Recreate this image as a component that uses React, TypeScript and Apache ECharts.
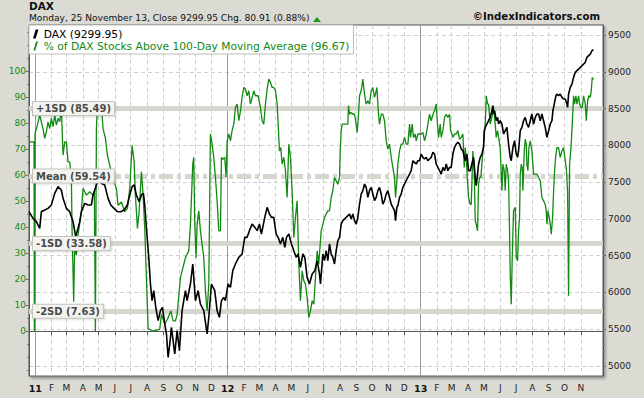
import React, { useEffect, useRef } from 'react';
import * as echarts from 'echarts';

const FONT = '"DejaVu Sans", Verdana, sans-serif';
const START = Date.UTC(2010, 11, 20);
const END = Date.UTC(2013, 11, 13);
const DAY = 86400000;

const daxName = 'DAX (9299.95)';
const pctName = '% of DAX Stocks Above 100-Day Moving Average (96.67)';
const titleText = 'DAX';
const subtitleText = 'Monday, 25 November 13, Close 9299.95 Chg. 80.91 (0.88%)';
const copyrightText = '\u00a9IndexIndicators.com';

// [days since 2010-12-20, value]
const dax2011 = [
  [0, 7098], [7.6, 7008], [14, 6962], [20.3, 6872], [23.5, 7098], [29.8, 7121], [36.1, 7143], [42.4, 7189], [48.8, 7347], [55.1, 7438],
  [61.4, 7393], [64.6, 7279], [70.9, 7143], [77.2, 7098], [83.6, 6962], [88.6, 6758], [93, 6872], [96.2, 6962], [99.4, 7098], [105.7, 7211],
  [112, 7189], [118.4, 7189], [121.5, 7325], [127.9, 7461], [132.3, 7529], [137.4, 7483], [143.7, 7461], [150, 7279], [155.1, 7189], [161.4, 7143],
  [167.7, 7098], [174, 7098], [180.4, 7121], [186.7, 7189], [191.1, 7325], [195.6, 7438], [199.4, 7461], [203.8, 7325], [208.9, 7234], [213.3, 7325],
  [217.1, 7347], [219.6, 7189], [222.8, 6872], [227.2, 6477], [230.4, 6115], [233.5, 5888], [236.7, 6024], [240.5, 5798], [244.9, 5616], [249.4, 5752],
  [253.2, 5798], [257.6, 5571], [260.8, 5435], [263.9, 5118], [267.1, 5299], [270.2, 5526], [273.4, 5345], [276.5, 5163], [281, 5480], [285.4, 5209],
  [290.4, 5752], [296.8, 6024], [299.9, 5888], [306.3, 6115], [310.7, 6387], [312.6, 6205], [315.7, 5888], [320.8, 6024], [325.2, 5843], [331.6, 5752],
  [337.9, 5435], [341.1, 5662], [346.1, 6115], [352.4, 6024], [356.9, 5752], [361.3, 5662], [365.1, 5888], [369.5, 5933], [372.7, 5888], [377.7, 6115],
];
const dax2012 = [
  [382.2, 6069], [386.6, 6296], [391.7, 6387], [398, 6477], [404.3, 6523], [409.4, 6749], [413.8, 6749], [418.2, 6840], [423.3, 6930], [428.4, 6885],
  [432.8, 6840], [437.2, 6930], [441, 6794], [447.3, 7021], [451.8, 7157], [456.2, 7066], [460, 7021], [464.4, 7021], [468.9, 6794], [472.7, 6749],
  [477.1, 6659], [481.5, 6749], [485.3, 6613], [488.5, 6749], [492.9, 6794], [498, 6659], [502.4, 6568], [506.8, 6477], [510.6, 6523], [515, 6341],
  [519.5, 6523], [523.3, 6477], [527.7, 6205], [532.1, 6115], [537.2, 6251], [542.3, 6296], [546.7, 6432], [551.1, 6251], [553, 6115], [557.5, 6523],
  [560.6, 6432], [563.8, 6568], [567, 6432], [570.1, 6659], [573.3, 6523], [576.4, 6477], [579.6, 6387], [582.8, 6568], [585.9, 6704], [589.1, 6749],
  [592.3, 6930], [595.4, 6976], [601.7, 7021], [608.1, 7066], [611.2, 6998], [614.4, 7066], [617.6, 6976], [620.7, 6930], [623.9, 7021], [627.1, 7202],
  [630.2, 7338], [633.4, 7384], [636.5, 7474], [639.7, 7429], [642.9, 7293], [646, 7384], [649.2, 7429], [652.4, 7338], [655.5, 7248], [658.7, 7293],
  [661.9, 7384], [665, 7429], [668.2, 7338], [671.3, 7202], [674.5, 7248], [677.7, 7338], [680.8, 7384], [684, 7293], [687.2, 7202], [690.3, 7157],
  [693.5, 7112], [695.4, 6976], [697.9, 7157], [699.8, 7180], [703, 7293], [706.1, 7338], [709.3, 7429], [712.5, 7474], [715.6, 7519], [718.8, 7565],
  [722, 7610], [725.1, 7655], [728.3, 7791], [731.4, 7769], [734.6, 7746], [737.8, 7791], [740.9, 7791],
];
const dax2013 = [
  [744.1, 7882], [747.3, 7837], [750.4, 7814], [753.6, 7837], [756.8, 7791], [759.9, 7814], [763.1, 7837], [766.3, 7905], [769.4, 7882], [772.6, 7746],
  [775.7, 7701], [778.9, 7655], [782.1, 7610], [785.2, 7701], [788.4, 7655], [791.6, 7746], [794.7, 7655], [797.9, 7701], [801, 7701], [804.2, 7882],
  [807.4, 7973], [810.5, 8018], [813.7, 8041], [816.9, 8018], [820, 7950], [823.2, 7927], [827.6, 7791], [830.8, 7882], [833.9, 7655], [837.1, 7655],
  [840.2, 7746], [843.4, 7837], [846.6, 7565], [848.5, 7451], [851, 7610], [852.9, 7746], [856.1, 7837], [859.2, 7882], [862.4, 7973], [863.7, 8199],
  [865.6, 8244], [868.7, 8290], [871.9, 8335], [875, 8380], [878.2, 8471], [880.1, 8539], [881.4, 8426], [883.3, 8471], [886.4, 8335], [889, 8380],
  [890.9, 8290], [894, 8335], [897.2, 8290], [900.4, 8154], [903.5, 8199], [906.7, 8244], [909.8, 8018], [913, 7837], [914.9, 7791], [918.1, 7973],
  [921.2, 8063], [924.4, 7882], [926.9, 7837], [928.8, 7927], [932, 8199], [935.2, 8244], [938.3, 8335], [941.5, 8380], [944.6, 8290], [947.8, 8244],
  [951, 8335], [954.1, 8426], [957.3, 8290], [960.5, 8380], [963.6, 8426], [966.8, 8426], [970, 8335], [973.1, 8426], [976.3, 8335], [979.4, 8244],
  [982.6, 8108], [985.8, 8199], [988.9, 8290], [992.1, 8335], [994, 8471], [996.5, 8561], [999.7, 8675], [1001.6, 8697], [1004.7, 8675], [1007.9, 8697],
  [1011.1, 8652], [1014.2, 8630], [1017.4, 8630], [1020.6, 8561], [1021.8, 8516], [1023.7, 8697], [1026.9, 8788], [1030.1, 8833], [1033.2, 8924], [1036.4, 8992],
  [1039.5, 9015], [1042.7, 9037], [1046, 9060], [1049, 9083], [1052.2, 9105], [1055.4, 9128], [1058.5, 9196], [1061.7, 9219], [1064.9, 9241], [1068, 9287],
  [1071, 9299.95],
];

const pct2011 = [
  [0, 72.7], [9.5, 72.7], [10.2, 0], [11.4, 75.9], [15.9, 79.1], [20.3, 83], [26.6, 77.8], [29.8, 74], [32.9, 76.5], [36.1, 80.4],
  [39.3, 77.8], [42.4, 81.7], [45.6, 78.5], [48.8, 83], [51.9, 79.1], [55.1, 81.7], [58.3, 80.4], [61.4, 85.5], [64.6, 67.6], [67.8, 72.7],
  [70.9, 72.7], [74.1, 65], [77.2, 65], [80.4, 58.6], [81.7, 39.4], [84.8, 11.2], [86.7, 33], [89.9, 29.1], [93, 36.8], [99.4, 45.8],
  [102.5, 54.8], [108.9, 52.2], [115.2, 53.5], [121.5, 52.2], [124, 53.5], [126, 0], [127.9, 77.8], [129.8, 86.8], [134.2, 85.5], [137.4, 86.8],
  [140.5, 77.8], [145, 74], [148.7, 67.6], [153.2, 63.7], [156.3, 61.2], [161.4, 57.3], [165.8, 54.8], [169, 48.3], [175.3, 49.6], [181.7, 45.8],
  [186.7, 47.1], [191.1, 54.8], [195.6, 71.4], [199.4, 65], [201.9, 52.2], [205.7, 39.4], [208.9, 45.8], [213.3, 61.2], [216.5, 52.2], [219.6, 39.4],
  [222.8, 20.2], [226, 0.9], [235.4, 0], [248, 0.6], [251.3, 6.4], [257.6, 2.6], [263.9, 5.1], [269, 7.7], [273.4, 3.9], [277.8, 3.9],
  [281, 6.4], [287.3, 20.5], [296.8, 28.2], [303.1, 30.8], [306.3, 41], [310.7, 64.1], [312.6, 66.7], [314.5, 41], [317, 28.2], [318.9, 41],
  [322.1, 46.2], [325.2, 38.5], [328.4, 33.3], [331.6, 28.2], [334.7, 15.4], [337.9, 7.7], [341.1, 18], [344.2, 75.7], [347.4, 71.8], [350.5, 66.7],
  [353.7, 59], [356.9, 50], [360, 38.5], [363.2, 38.5], [365.1, 66.7], [367.6, 66], [371.4, 66.7], [374, 59], [375.9, 73.1],
];
const pct2012 = [
  [379, 75.7], [382.2, 73.1], [385.3, 77], [388.5, 79.5], [391.7, 85.9], [394.8, 87.2], [398, 80.8], [401.2, 84.6], [404.3, 89.8], [407.5, 93.6],
  [410.6, 93], [413.8, 90.4], [417, 92.3], [420.1, 87.2], [423.3, 89.8], [426.5, 92.3], [429.6, 90.4], [434.7, 90.4], [439.1, 85.9], [442.3, 80.8],
  [445.4, 79.5], [448.6, 87.2], [451.8, 93], [454.9, 96.8], [458.1, 95.5], [461.3, 93.6], [464.4, 93.6], [467.6, 92.3], [470.8, 87.2], [472.7, 79.5],
  [475.2, 69.2], [477.7, 70.5], [480.2, 64.1], [483.4, 66.7], [486.6, 61.6], [489.7, 51.3], [492.9, 71.8], [496.1, 66.7], [499.2, 53.9], [502.4, 35.9],
  [505.5, 43.6], [508.7, 50], [511.9, 25.7], [515, 11.6], [518.2, 23.1], [521.4, 19.3], [524.5, 18], [527.7, 12.8], [530.9, 5.1], [534, 7.7],
  [537.2, 11.6], [540.4, 10.3], [543.5, 20.5], [546.7, 30.8], [549.8, 25.7], [554.3, 38.5], [557.5, 41], [560.6, 43.6], [563.8, 44.9], [567, 46.2],
  [570.1, 46.2], [573.3, 51.3], [576.4, 53.9], [579.6, 59], [582.8, 57.7], [585.9, 56.4], [589.1, 59], [590.4, 69.2], [592.3, 77], [594.2, 79.5],
  [598.6, 79.5], [604.9, 79.5], [606.2, 86.6], [608.1, 83.3], [611.2, 84], [614.4, 83.3], [617.6, 83.3], [620.7, 79.5], [622.6, 76.3], [625.2, 83.3],
  [627.1, 90.4], [630.2, 92.3], [633.4, 96.8], [636.5, 91], [639.7, 87.2], [642.9, 88.5], [646, 87.2], [649.2, 92.3], [652.4, 93.6], [655.5, 89.8],
  [657.4, 91], [660, 93.6], [663.1, 83.3], [665, 79.5], [668.2, 83.3], [671.3, 83.3], [674.5, 80.8], [677.7, 73.1], [680.8, 69.9], [684, 71.8],
  [687.2, 66.7], [690.3, 62.8], [693.5, 59], [695.4, 51.3], [697.9, 57.7], [699.8, 64.1], [703, 69.2], [706.1, 71.8], [709.3, 71.8], [712.5, 74.4],
  [715.6, 71.8], [718.8, 71.8], [722, 79.5], [723.9, 74.4], [727, 79.5], [729.5, 74.4], [732.7, 75.7], [734.6, 73.1], [737.8, 75.7], [740.9, 75.7],
];
const pct2013 = [
  [744.1, 75.7], [747.3, 76.3], [750.4, 73.1], [753.6, 75.7], [756.8, 79.5], [759.9, 83.3], [763.1, 80.8], [766.3, 83.3], [769.4, 84.6], [772.6, 87.2],
  [774.5, 80.8], [777, 74.4], [780.2, 79.5], [782.1, 74.4], [785.2, 77], [788.4, 82.1], [791.6, 83.3], [794.7, 82.1], [797.9, 83.3], [799.8, 77],
  [802.3, 75.7], [804.2, 74.4], [807.4, 75.7], [810.5, 75.7], [813.7, 77], [816.9, 73.7], [820, 74.4], [823.2, 75.7], [824.4, 69.2], [825.7, 62.8],
  [827.6, 70.5], [829.5, 66.7], [832, 57.7], [833.9, 51.3], [837.1, 48.7], [839, 48.7], [840.2, 56.4], [842.1, 69.2], [844.7, 61.6], [846.6, 42.3],
  [848.5, 41], [851, 38.5], [852.9, 56.4], [854.8, 59], [857.3, 59], [859.2, 64.1], [862.4, 71.8], [865.6, 79.5], [867.5, 90.4], [870, 87.2],
  [871.9, 87.2], [875, 79.5], [878.2, 82.1], [881.4, 85.9], [884.5, 79.5], [886.4, 74.4], [889, 77], [890.9, 74.4], [894, 70.5], [897.2, 53.9],
  [899.1, 64.1], [901.6, 61.6], [903.5, 53.9], [905.4, 64.1], [908, 61.6], [909.8, 57.7], [911.7, 38.5], [913, 21.8], [914.9, 10.3], [916.8, 28.2],
  [919.3, 46.2], [922.5, 47.5], [924.4, 28.2], [926.9, 27], [928.8, 38.5], [930.7, 43.6], [932, 60.3], [933.9, 64.1], [935.8, 62.8], [937, 53.9],
  [939.6, 69.2], [941.5, 73.7], [943.4, 71.8], [944.6, 64.1], [946.5, 61.6], [948.4, 70.5], [951, 73.1], [954.1, 69.2], [957.3, 60.3], [963.6, 60.3],
  [966.8, 59], [970, 57.7], [973.1, 51.3], [976.3, 50], [979.4, 48.7], [981.3, 46.2], [982.6, 41], [984.5, 46.2], [987, 43.6], [988.9, 41],
  [990.8, 37.2], [993.4, 43.6], [995.3, 53.9], [997.2, 61.6], [999.1, 66.7], [1001.6, 70.5], [1004.7, 70.5], [1007.9, 66.7], [1011.1, 69.2], [1014.2, 70.5],
  [1017.4, 65.4], [1019.3, 62.8], [1021.8, 53.9], [1023.7, 13.5], [1025.6, 64.1], [1028.2, 70.5], [1030.7, 79.5], [1033.2, 90.4], [1035.1, 87.2], [1037.6, 90.4],
  [1039.5, 87.2], [1042.7, 90.4], [1044.6, 87.2], [1047.1, 85.9], [1049.7, 85.9], [1052.2, 90.4], [1055.4, 87.2], [1057.3, 80.8], [1059.8, 88.5], [1062.3, 90.4],
  [1064.9, 89.8], [1066.7, 92.3], [1068.6, 97.4], [1071, 96.67],
];

const leftLabels = [0, 10, 20, 30, 40, 50, 60, 70, 80, 90, 100];
const leftMinor = [-15, -10, -5, 0, 5, 10, 15, 20, 25, 30, 35, 40, 45, 50, 55, 60, 65, 70, 75, 80, 85, 90, 95, 100, 105, 110, 115];
const rightLabels = [5000, 5500, 6000, 6500, 7000, 7500, 8000, 8500, 9000, 9500];
const sdValues = [85.49, 59.54, 33.58, 7.63];
const sdNames = ['+1SD', 'Mean', '-1SD', '-2SD'];
const monthLetters = ['J', 'F', 'M', 'A', 'M', 'J', 'J', 'A', 'S', 'O', 'N', 'D'];

const monthStarts: number[] = [];
for (let y = 2011; y <= 2013; y++) {
  for (let m = 0; m < 12; m++) {
    if (y === 2013 && m > 10) break;
    monthStarts.push(Date.UTC(y, m, 1));
  }
}
const yearStarts = [Date.UTC(2011, 0, 1), Date.UTC(2012, 0, 1), Date.UTC(2013, 0, 1)];
const rightMinor: number[] = [];
for (let v = 4900; v <= 9600; v += 100) rightMinor.push(v);

const toTime = (pts: number[][]) => pts.map(([d, v]) => [START + d * DAY, v]);

export default function App() {
  const ref = useRef<HTMLDivElement>(null);
  useEffect(() => {
    const chart = echarts.init(ref.current!, null, { renderer: 'svg' });
    const daxData = toTime([...dax2011, ...dax2012, ...dax2013]);
    const pctData = toTime([...pct2011, ...pct2012, ...pct2013]);
    const GREEN = '#128a12';
    const option: any = {
      animation: false,
      backgroundColor: '#dbdbd4',
      textStyle: { fontFamily: FONT },
      title: [
        { text: titleText, left: 29, top: 0, padding: 0, textStyle: { fontFamily: FONT, fontWeight: 'bold', fontSize: 10.5, color: '#111' } },
        { text: subtitleText, left: 29, top: 13, padding: 0, textStyle: { fontFamily: FONT, fontWeight: 'normal', fontSize: 9.1, color: '#111' } },
        { text: copyrightText, right: 44, top: 11, padding: 0, textStyle: { fontFamily: FONT, fontWeight: 'bold', fontSize: 10.2, color: '#111' } },
      ],
      graphic: [
        { type: 'polygon', shape: { points: [[313, 22], [321, 22], [317, 17]] }, style: { fill: '#1a9a1a' } },
      ],
      legend: {
        orient: 'vertical', left: 29, top: 25, itemGap: 0, itemWidth: 6, itemHeight: 9,
        padding: [3, 4, 2, 4], backgroundColor: '#fff', borderColor: '#bdbdb5', borderWidth: 1,
        textStyle: { fontFamily: FONT, fontSize: 10.7, lineHeight: 12 },
        data: [
          { name: daxName, icon: 'path://M3,0 L6,0 L3,10 L0,10 Z', textStyle: { color: '#000' } },
          { name: pctName, icon: 'path://M3,0 L5,0 L2,10 L0,10 Z', textStyle: { color: GREEN } },
        ],
        selectedMode: false,
      },
      grid: {
        left: 29, right: 41, top: 25, bottom: 22, show: true, backgroundColor: '#fff',
        borderColor: '#555', borderWidth: 1, shadowColor: 'rgba(0,0,0,0.35)', shadowBlur: 3, shadowOffsetX: 2, shadowOffsetY: 2,
      },
      xAxis: {
        type: 'value', min: START, max: END,
        axisLine: { show: true, lineStyle: { color: '#555' } },
        axisTick: { show: true, customValues: monthStarts, length: 4, lineStyle: { color: '#555' } },
        axisLabel: {
          customValues: monthStarts, margin: 7, fontFamily: FONT, fontSize: 9, color: '#222',
          formatter: (v: number) => {
            const d = new Date(v);
            const m = d.getUTCMonth();
            return m === 0 ? `{y|${String(d.getUTCFullYear()).slice(2)}}` : monthLetters[m];
          },
          rich: { y: { fontWeight: 'bold', fontFamily: FONT, fontSize: 9.5, color: '#111' } },
        },
        splitLine: { show: true, lineStyle: { color: '#cfcfcf', type: [4, 3], width: 1 } },
      },
      yAxis: [
        {
          type: 'value', position: 'left', min: -17.3, max: 117.6,
          axisLine: { show: true, lineStyle: { color: '#555' } },
          axisTick: { show: true, customValues: leftLabels, length: 3, lineStyle: { color: '#555' } },
          axisLabel: { customValues: leftLabels, margin: 3, fontFamily: FONT, fontSize: 9, color: GREEN },
          splitLine: { show: false },
        },
        {
          type: 'value', position: 'right', min: 4864, max: 9636,
          axisLine: { show: true, lineStyle: { color: '#555' } },
          axisTick: { show: true, customValues: rightLabels, length: 3, lineStyle: { color: '#555' } },
          axisLabel: { customValues: rightLabels, margin: 5, fontFamily: FONT, fontSize: 9, color: '#222', formatter: (v: number) => String(v) },
          splitLine: { show: true, lineStyle: { color: '#cfcfcf', type: [4, 3], width: 1 } },
        },
        {
          type: 'value', position: 'left', min: -17.3, max: 117.6,
          axisLine: { show: false },
          axisTick: { show: true, customValues: leftMinor, length: 2, lineStyle: { color: '#777' } },
          axisLabel: { show: false },
          splitLine: { show: false },
        },
        {
          type: 'value', position: 'right', min: 4864, max: 9636,
          axisLine: { show: false },
          axisTick: { show: true, customValues: rightMinor, length: 2, lineStyle: { color: '#777' } },
          axisLabel: { show: false },
          splitLine: { show: false },
        },
      ],
      series: [
        {
          type: 'line', name: 'years', data: [], yAxisIndex: 0, z: 1, silent: true,
          markLine: {
            silent: true, symbol: 'none', animation: false, z: 1,
            lineStyle: { color: '#9a9a9a', type: 'solid', width: 1 },
            label: { show: false },
            data: yearStarts.map((t) => ({ xAxis: t })),
          },
        },
        {
          type: 'line', name: 'bands', data: [], yAxisIndex: 0, z: 1, silent: true,
          markLine: {
            silent: true, symbol: 'none', animation: false, z: 1,
            lineStyle: { color: '#d6d6ce', width: 5, type: 'solid' },
            label: { show: false },
            data: sdValues.map((v, i) => ({ yAxis: v, lineStyle: { color: '#d6d6ce', width: 5, type: i === 1 ? [14, 4, 4, 4] : 'solid' } })),
          },
        },
        {
          type: 'line', name: pctName, data: pctData, yAxisIndex: 0, z: 2,
          showSymbol: false, symbol: 'none', color: GREEN,
          lineStyle: { color: GREEN, width: 1.3 },
        },
        {
          type: 'line', name: daxName, data: daxData, yAxisIndex: 1, z: 3,
          showSymbol: false, symbol: 'none', color: '#000',
          lineStyle: { color: '#000', width: 1.6 },
        },
        {
          type: 'line', name: 'labels', data: [], yAxisIndex: 0, z: 10, silent: true,
          markLine: {
            silent: true, symbol: 'none', animation: false, z: 10,
            lineStyle: { color: 'rgba(0,0,0,0)', width: 1 },
            label: {
              show: true, position: 'insideStart', distance: [4, 0],
              formatter: (p: any) => p.name,
              fontFamily: FONT, fontSize: 10, fontWeight: 'bold', color: '#4a4a4a',
              backgroundColor: '#f3f3ef', borderColor: '#c4c4bc', borderWidth: 1,
              padding: [2, 3, 1, 3],
              shadowColor: 'rgba(0,0,0,0.15)', shadowBlur: 2, shadowOffsetX: 1, shadowOffsetY: 1,
            },
            data: sdValues.map((v, i) => ({ yAxis: v, name: `${sdNames[i]} (${v.toFixed(2)})` })),
          },
        },
      ],
    };
    chart.setOption(option);
    return () => chart.dispose();
  }, []);
  return <div ref={ref} style={{ position: 'fixed', left: 0, top: 0, width: 644, height: 398 }} />;
}
